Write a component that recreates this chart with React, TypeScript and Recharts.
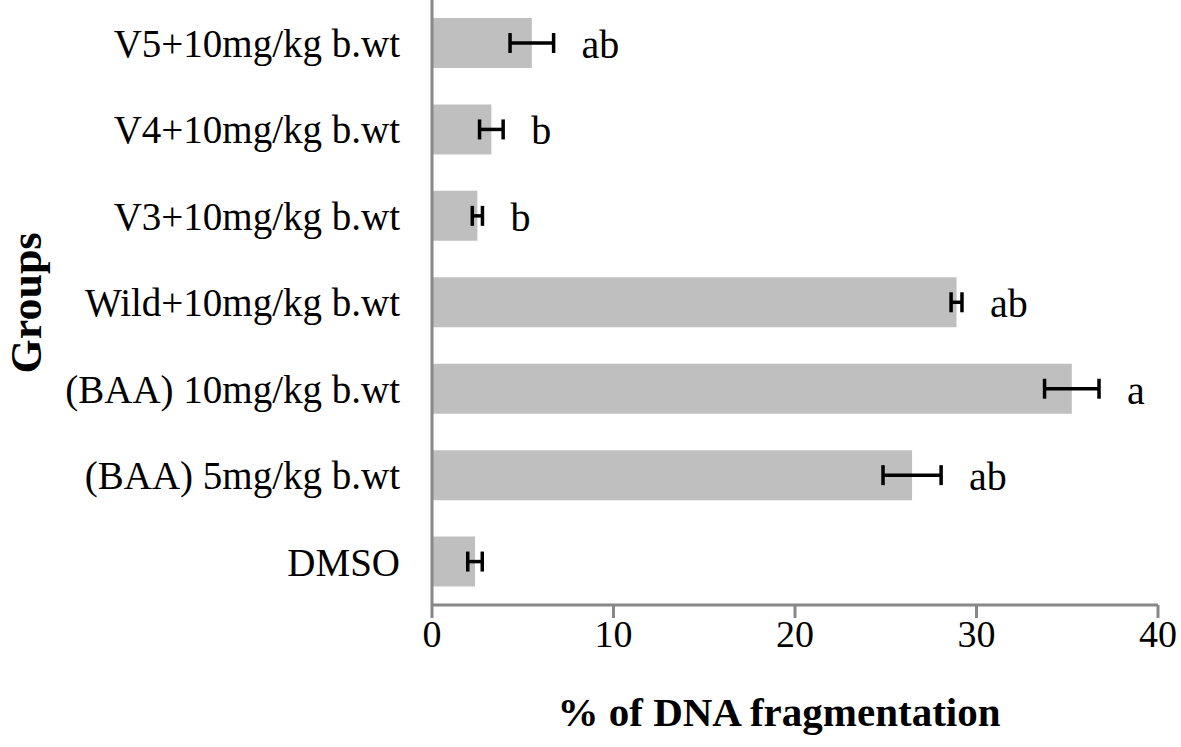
import {
  BarChart,
  Bar,
  XAxis,
  YAxis,
  ErrorBar,
  LabelList,
  Label,
} from "recharts";

// Groups, top to bottom as drawn
const groups = [
  "V5+10mg/kg b.wt",
  "V4+10mg/kg b.wt",
  "V3+10mg/kg b.wt",
  "Wild+10mg/kg b.wt",
  "(BAA) 10mg/kg b.wt",
  "(BAA) 5mg/kg b.wt",
  "DMSO",
];
const fragmentation = [5.5, 3.27, 2.5, 28.9, 35.25, 26.45, 2.37];
const errors = [1.2, 0.65, 0.28, 0.3, 1.5, 1.6, 0.4];
const letters = ["ab", "b", "b", "ab", "a", "ab", ""];
const xTicks = [0, 10, 20, 30, 40];

const data = groups.map((g, i) => ({
  group: g,
  value: fragmentation[i],
  err: errors[i],
  letter: letters[i],
}));

const FONT = "'Times New Roman', 'Liberation Serif', serif";
const AXIS_GREY = "#888888";

// letter sits just to the right of the error bar
const renderLetter = (props: any) => {
  const { x, y, width, height, index } = props;
  const d = data[index];
  if (!d || !d.letter) return null;
  const endX = x + (width * (d.value + d.err)) / d.value;
  return (
    <text
      x={endX + 28}
      y={y + height / 2 + 15}
      fontSize={40}
      fontFamily={FONT}
      fill="#000"
    >
      {d.letter}
    </text>
  );
};

export default function App() {
  return (
    <div style={{ position: "absolute", left: 0, top: 0, background: "#fff" }}>
      <BarChart
        width={1181}
        height={747}
        data={data}
        layout="vertical"
        margin={{ top: 0, right: 23, bottom: 0, left: 0 }}
        barSize={50}
      >
        <XAxis
          type="number"
          domain={[0, 40]}
          ticks={xTicks}
          interval={0}
          height={142}
          stroke={AXIS_GREY}
          strokeWidth={3}
          tickSize={13}
          tickMargin={2}
          tick={{ fill: "#000", fontSize: 38, fontFamily: FONT }}
        >
          <Label
            content={() => (
              <text
                x={779}
                y={726}
                textAnchor="middle"
                fontSize={41}
                fontWeight="bold"
                fontFamily={FONT}
                fill="#000"
              >
                % of DNA fragmentation
              </text>
            )}
          />
        </XAxis>
        <YAxis
          type="category"
          dataKey="group"
          width={432}
          stroke={AXIS_GREY}
          strokeWidth={3}
          tickLine={false}
          tickSize={0}
          tickMargin={32}
          interval={0}
          tick={{ fill: "#000", fontSize: 39, fontFamily: FONT }}
        >
          <Label
            content={() => (
              <text
                x={41}
                y={303}
                textAnchor="middle"
                fontSize={44}
                fontWeight="bold"
                fontFamily={FONT}
                fill="#000"
                transform="rotate(-90 41 303)"
              >
                Groups
              </text>
            )}
          />
        </YAxis>
        <Bar dataKey="value" fill="#bfbfbf" isAnimationActive={false}>
          <ErrorBar
            dataKey="err"
            direction="x"
            width={10}
            stroke="#000"
            strokeWidth={3.5}
            isAnimationActive={false}
          />
          <LabelList dataKey="letter" content={renderLetter} />
        </Bar>
      </BarChart>
    </div>
  );
}
